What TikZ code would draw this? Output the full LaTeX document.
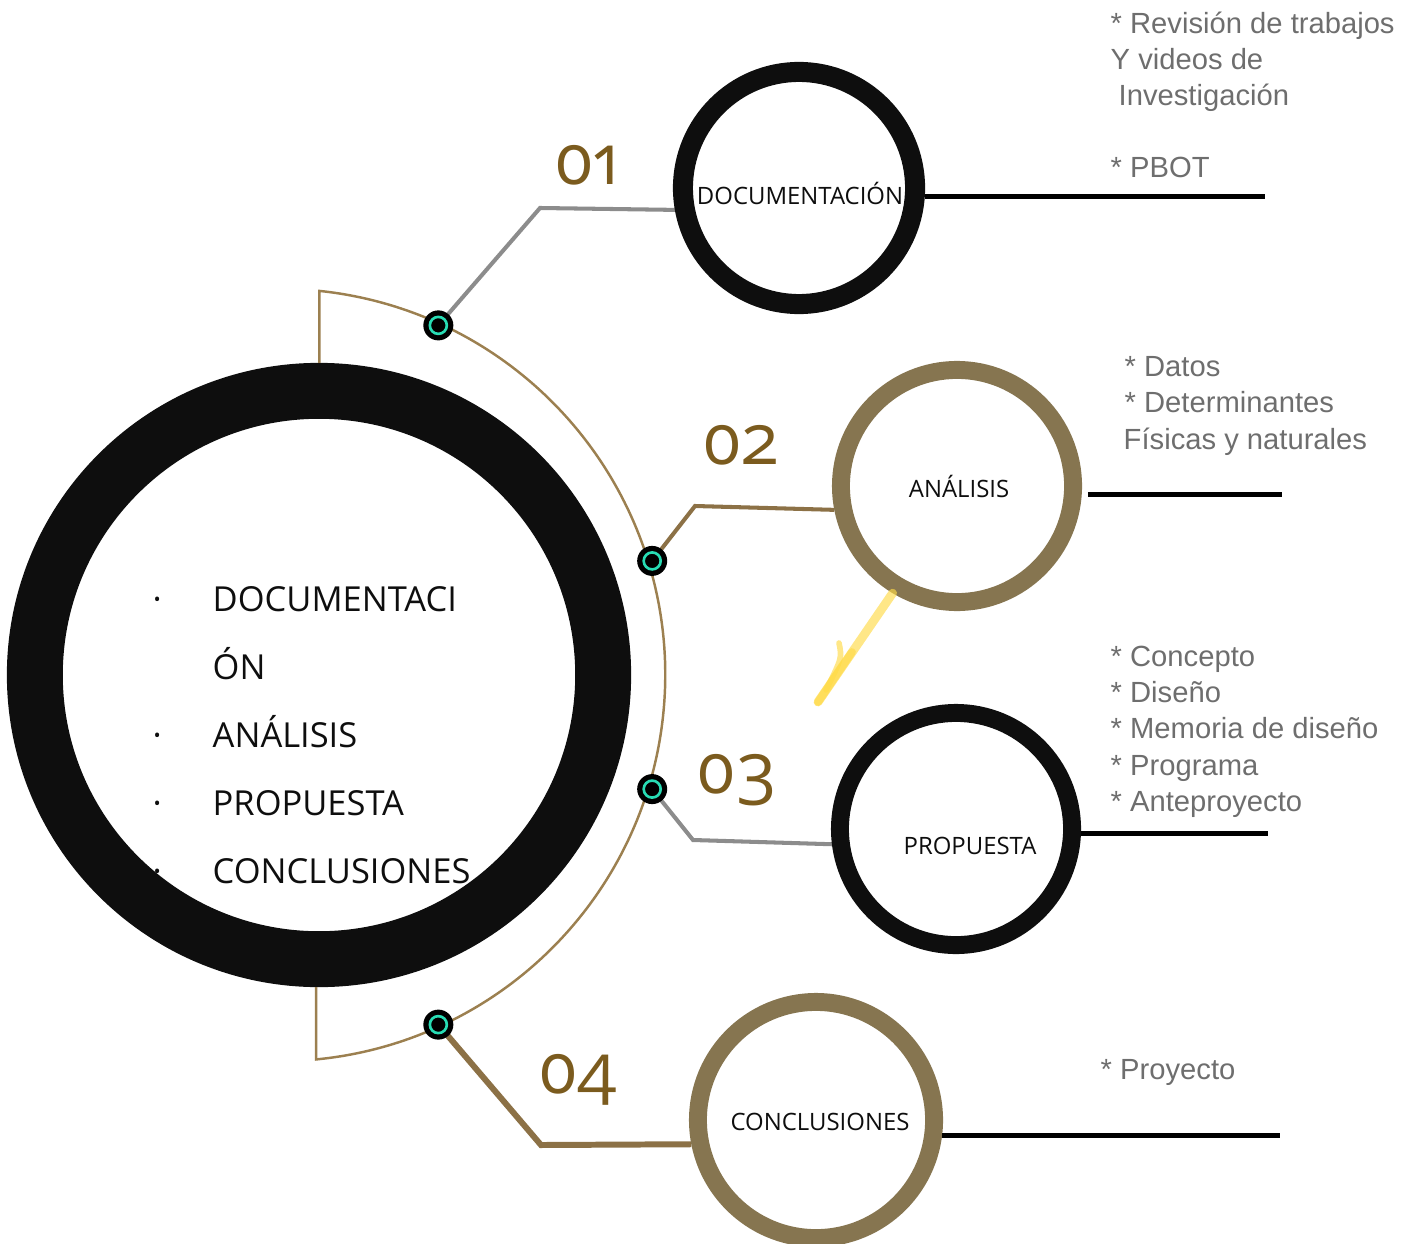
\documentclass[tikz,border=0pt]{standalone}
\usepackage{fontspec}
\setmainfont{Open Sans}
\newfontfamily\arialf{Liberation Sans}
\newfontfamily\numf{Open Sans}[Numbers=OldStyle]
\usetikzlibrary{calc,backgrounds}
\definecolor{ink}{RGB}{14,14,14}
\definecolor{ringgold}{RGB}{134,117,80}
\definecolor{arcgold}{RGB}{156,128,80}
\definecolor{conngold}{RGB}{140,113,70}
\definecolor{numcol}{RGB}{123,91,30}
\definecolor{conngray}{RGB}{140,140,140}
\definecolor{txtgray}{RGB}{110,110,110}
\definecolor{tealc}{RGB}{40,220,180}
\definecolor{yel}{RGB}{255,218,70}
\begin{document}
\begin{tikzpicture}[x=0.01cm,y=-0.01cm,
  ringb/.style={circle, draw=ink, inner sep=0pt},
  ringg/.style={circle, draw=ringgold, inner sep=0pt},
  lbl/.style={inner sep=0pt, font=\fontsize{6.8pt}{8pt}\selectfont, text=ink},
  lst/.style={inner sep=0pt, anchor=base west, font=\fontsize{9.8pt}{12pt}\selectfont, text=ink},
  num/.style={inner sep=0pt, font=\numf\fontsize{20pt}{24pt}\selectfont, text=numcol},
  note/.style={inner sep=0pt, anchor=base west, align=left, text=txtgray, font=\arialf\fontsize{8.3pt}{10.24pt}\selectfont},
  dotn/.style={circle, fill=black, minimum size=0.3cm, inner sep=0pt,
    path picture={\draw[tealc, line width=0.75pt] (path picture bounding box.center) circle (0.085cm);}},
  cgray/.style={draw=conngray, line width=1.15pt},
  cgold/.style={draw=conngold, line width=1.15pt},
  hline/.style={draw=black, line width=1.4pt},
  yarrow/.style={draw=yel, opacity=0.65, line width=2.5pt, line cap=round}
]
\useasboundingbox (0,0) rectangle (1416,1243);

% main ring
\node[ringb, line width=15.9pt, minimum size=5.68cm] (main) at (319,675) {};

% arc and dots
\coordinate (ac) at (279,675);
\coordinate (atop) at ($(ac)+(84:3.86cm)$);
\coordinate (abot) at ($(ac)+(-84.5:3.86cm)$);
\draw[arcgold, line width=0.7pt] (atop |- main.north) -- (atop) arc[start angle=84, end angle=-84.5, radius=3.86cm] -- (abot |- main.south);

\node[dotn] (d1) at ($(ac)+(65.5:3.84cm)$) {};
\node[dotn] (d2) at ($(ac)+(17:3.90cm)$) {};
\node[dotn] (d3) at ($(ac)+(-17:3.90cm)$) {};
\node[dotn] (d4) at ($(ac)+(-65.5:3.84cm)$) {};

% stage circles
\node[ringb, line width=5.7pt, minimum size=2.32cm] (doc) at (799,188) {};
\node[ringg, line width=5.1pt, minimum size=2.32cm] (ana) at (957,486) {};
\node[ringb, line width=5.1pt, minimum size=2.32cm] (prop) at (956,829) {};
\node[ringg, line width=5.1pt, minimum size=2.36cm] (conc) at (816,1120) {};

\node[lbl] (tdoc) at (800,193) {DOCUMENTACIÓN};
\node[lbl] (tana) at (959,486) {ANÁLISIS};
\node[lbl] (tprop) at (970,846) {PROPUESTA};
\node[lbl] (tconc) at (820,1122) {CONCLUSIONES};

% numbers
\node[num] (n1) at (587,165) {01};
\node[num] (n2) at (740,445) {02};
\node[num] (n3) at (737,780) {03};
\node[num] (n4) at (578,1080) {04};

% connectors
\begin{scope}[on background layer]
\draw[cgray] (d1.center) -- (540,208) -- (doc.190);
\draw[cgold] (d2.center) -- (695,506) -- (ana.191);
\draw[cgray] (d3.center) -- (693,840) -- (prop.187);
\draw[cgold, line width=1.7pt] (d4.center) -- (541,1145) -- (conc.191);
\end{scope}

% horizontal lines
\coordinate (e1) at (1265,197);
\coordinate (e2) at (1282,494);
\coordinate (e3) at (1268,834);
\coordinate (e4) at (1280,1135);
\draw[hline] (doc.-4) -- (doc.-4 -| e1);
\draw[hline] ($(ana.-4)+(6,0)$) -- (ana.-4 -| e2);
\draw[hline] (prop.-2) -- (prop.-2 -| e3);
\draw[hline] (conc.-7) -- (conc.-7 -| e4);

% yellow arrow
\coordinate (y1) at (818,702);
\coordinate (y2) at (839,643);
\coordinate (y3) at (826,690);
\coordinate (y4) at (852,652);
\draw[yarrow] (ana.239) -- (y1);
\draw[yarrow, line width=1.6pt] (y2) .. controls (842,658) .. (y3);
\draw[yarrow, line width=2.2pt] (y4) -- (y1);

% list inside main circle
\node[lst] (b1) at (152,611) {·};
\node[lst] (l1) at (212,611) {DOCUMENTACI};
\node[lst] (l2) at (212,679) {ÓN};
\node[lst] (b2) at (152,747) {·};
\node[lst] (l3) at (212,747) {ANÁLISIS};
\node[lst] (b3) at (152,815) {·};
\node[lst] (l4) at (212,815) {PROPUESTA};
\node[lst] (b4) at (152,883) {·};
\node[lst] (l5) at (212,883) {CONCLUSIONES};

% notes (base anchor = baseline of the last line)
\node[note] (m1) at (1110,178) {* Revisión de trabajos\\Y videos de\\\hspace*{0.08cm}Investigación\\\mbox{}\\* PBOT};
\node[note] (m2) at (1123,449) {\hspace*{0.01cm}* Datos\\\hspace*{0.01cm}* Determinantes\\Físicas y naturales};
\node[note] (m3) at (1110,811) {* Concepto\\* Diseño\\* Memoria de diseño\\* Programa\\* Anteproyecto};
\node[note] (m4) at (1100,1079) {* Proyecto};
\end{tikzpicture}
\end{document}
